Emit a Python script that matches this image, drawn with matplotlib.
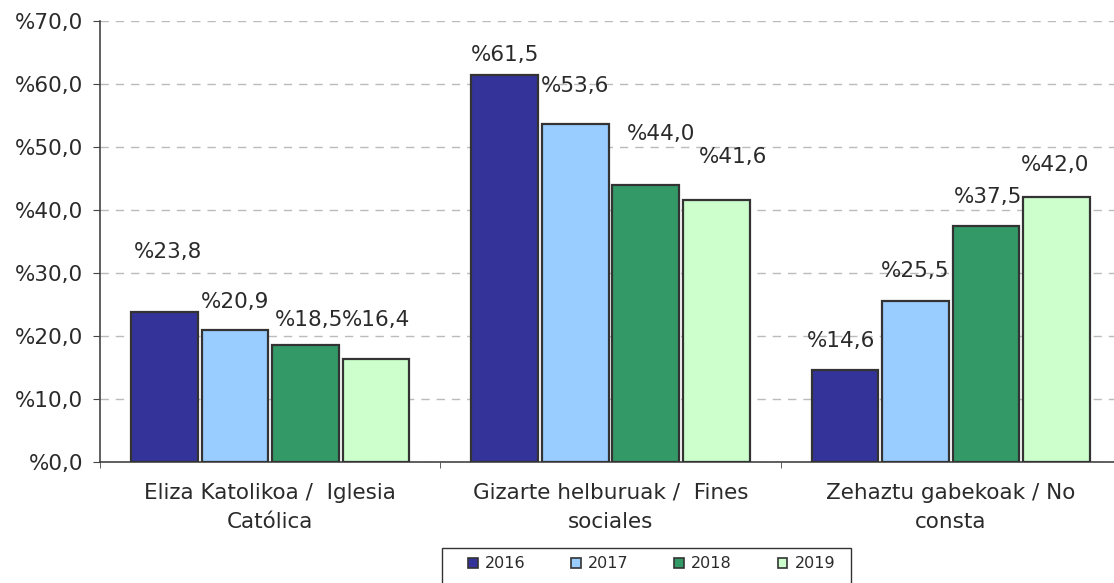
import matplotlib.pyplot as plt
import matplotlib.ticker as ticker
from matplotlib.patches import Patch, Rectangle
import numpy as np

plt.rcParams['font.family'] = ['DejaVu Sans']

categories = ["Eliza Katolikoa /  Iglesia\nCatólica",
              "Gizarte helburuak /  Fines\nsociales",
              "Zehaztu gabekoak / No\nconsta"]
years = ["2016", "2017", "2018", "2019"]
values_2016 = [23.8, 61.5, 14.6]
values_2017 = [20.9, 53.6, 25.5]
values_2018 = [18.5, 44.0, 37.5]
values_2019 = [16.4, 41.6, 42.0]
series = [values_2016, values_2017, values_2018, values_2019]
colors = ["#333399", "#99CCFF", "#339966", "#CCFFCC"]

# label offsets (dx, dy) per series / category, in data units
label_dx = [[0.01, 0.0, -0.01], [0.0, 0.0, 0.0], [0.01, 0.045, 0.005], [0.0, 0.05, -0.005]]
label_dy = [[9.5, 3.1, 4.6], [4.5, 6.1, 4.8], [4.0, 8.1, 4.5], [6.1, 6.8, 5.1]]

text_color = "#2a2a2a"
fs = 15.5
W, H = 1114, 583

fig = plt.figure(figsize=(W / 100, H / 100), dpi=100)
ax = fig.add_axes([100 / W, 1 - 462 / H, 1021 / W, 441 / H])

x = np.arange(len(categories))
step = 0.2075
width = 0.196
for i, (vals, col) in enumerate(zip(series, colors)):
    pos = x + (i - 1.5) * step
    ax.bar(pos, vals, width=width, color=col, edgecolor="#333333", linewidth=1.6, zorder=3)
    for j, v in enumerate(vals):
        ax.text(pos[j] + label_dx[i][j], v + label_dy[i][j], f"%{v:.1f}".replace(".", ","),
                ha="center", va="center", fontsize=fs, color=text_color, zorder=4)

ax.set_xlim(-0.5, len(categories) - 0.5)
ax.set_ylim(0, 70)
ax.yaxis.set_major_locator(ticker.MultipleLocator(10))
ax.yaxis.set_major_formatter(ticker.FuncFormatter(lambda v, _: f"%{v:.1f}".replace(".", ",")))
ax.grid(axis="y", color="#BBBBBB", linestyle=(0, (6, 5)), linewidth=1, zorder=0)

ax.set_xticks(x)
ax.set_xticklabels(categories, fontsize=fs, color=text_color, linespacing=1.6)
ax.set_xticks(np.arange(len(categories) + 1) - 0.5, minor=True)
ax.tick_params(axis="x", which="major", length=0, pad=15)
ax.tick_params(axis="x", which="minor", length=4, color="#444444", direction="out")
ax.tick_params(axis="y", length=5, color="#444444", pad=7, labelsize=fs, labelcolor=text_color)

for side in ["top", "right"]:
    ax.spines[side].set_visible(False)
for side in ["left", "bottom"]:
    ax.spines[side].set_color("#444444")
    ax.spines[side].set_linewidth(1.2)

# legend (frame drawn separately so it can be wider than the entries)
handles = [Patch(facecolor=c, edgecolor="#333333", linewidth=1.2) for c in colors]
leg = fig.legend(handles, years, loc="center", bbox_to_anchor=(651.5 / W, 1 - 564 / H),
                 ncol=4, fontsize=11.5, frameon=False, handlelength=0.62,
                 handleheight=0.62, handletextpad=0.45, columnspacing=2.85, borderpad=0,
                 borderaxespad=0)
for t in leg.get_texts():
    t.set_color(text_color)
fig.patches.append(Rectangle((442 / W, 1 - 592 / H), 409 / W, 44 / H, transform=fig.transFigure,
                             fill=False, edgecolor="#333333", linewidth=1.0))

fig.savefig("out.png", dpi=100, facecolor="white")
